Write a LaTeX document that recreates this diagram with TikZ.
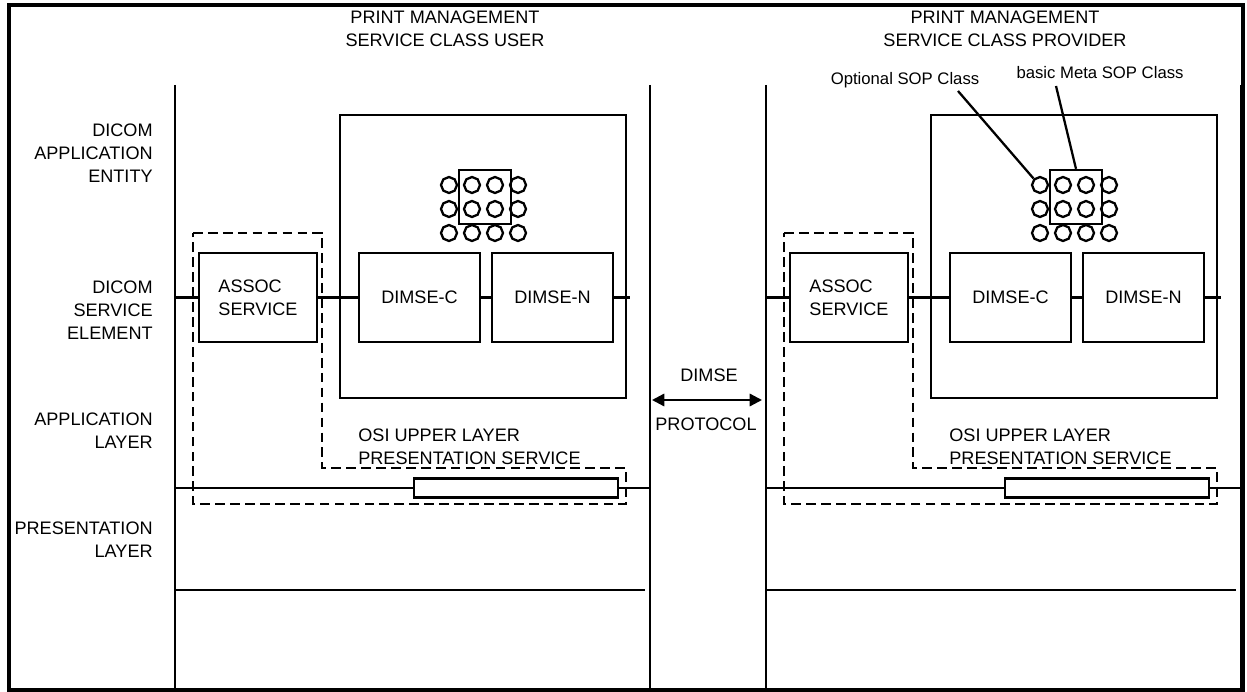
\documentclass[tikz,border=0pt]{standalone}
\usepackage{fontspec}
\setmainfont{Liberation Sans}
\usetikzlibrary{arrows.meta, positioning, shapes.geometric}
\definecolor{inkblack}{RGB}{0, 0, 0}

\tikzset{
  rule/.style={inkblack, line width=1.3pt},
  label/.style={font=\fontsize{10.3}{13}\selectfont, inner sep=0pt, align=center},
  note/.style={font=\fontsize{9.5}{12}\selectfont, inner sep=0pt},
  unitbox/.style={draw=inkblack, line width=1.3pt, fill=white, inner sep=0pt,
    minimum height=1.78cm, font=\fontsize{10.3}{13}\selectfont, align=left},
  sopdot/.style={draw=inkblack, line width=1.3pt, regular polygon,
    regular polygon sides=8, shape border rotate=22.5,
    minimum size=0.32cm, inner sep=0pt}
}

\begin{document}
\begin{tikzpicture}[x=0.02cm, y=-0.02cm]
  \useasboundingbox (0,0) rectangle (1247,692);
  % outer frame
  \draw[inkblack, line width=2.2pt] (9,5) rectangle (1243,690);

  % headings over the two columns
  \node[label] (usrhead) at (445,29) {PRINT MANAGEMENT\\SERVICE CLASS USER};
  \node[label] (prvhead) at (1005,29) {PRINT MANAGEMENT\\SERVICE CLASS PROVIDER};

  % layer names on the left
  \node[label, align=right, anchor=east] (entity) at (153,153)
    {DICOM\\APPLICATION\\ENTITY};
  \node[label, align=right, anchor=east] (element) at (153,310)
    {DICOM\\SERVICE\\ELEMENT};
  \node[label, align=right, anchor=east] (applayer) at (153,431)
    {APPLICATION\\LAYER};
  \node[label, align=right, anchor=east] (preslayer) at (153,540)
    {PRESENTATION\\LAYER};

  % one column per side
  \foreach \s/\dx in {usr/0, prv/591} {
    \begin{scope}[shift={(\dx,0)}]
      \draw[rule] (175,85) -- (175,690);
      \draw[rule] (650,85) -- (650,690);
      \draw[rule] (175,488) -- (650,488);
      \draw[rule] (175,590) -- (645,590);
      \draw[rule] (340,115) rectangle (626,398);
      \draw[rule, dash pattern=on 5.5pt off 3pt]
        (193,233) -- (322,233) -- (322,468) -- (626,468)
        -- (626,504) -- (193,504) -- cycle;
      \node[label, align=left, anchor=west] (\s-osi) at (358,447)
        {OSI UPPER LAYER\\PRESENTATION SERVICE};
      \node[draw=inkblack, line width=1.3pt, fill=white, inner sep=0pt,
        minimum width=4.08cm, minimum height=0.38cm] (\s-psap) at (516,488) {};
      % service elements
      \node[unitbox, minimum width=2.36cm] (\s-assoc) at (258,297.5)
        {ASSOC\\SERVICE};
      \node[unitbox, minimum width=2.42cm, align=center] (\s-dimsec)
        at (419.5,297.5) {DIMSE-C};
      \node[unitbox, minimum width=2.42cm, align=center] (\s-dimsen)
        at (552.5,297.5) {DIMSE-N};
      \coordinate (\s-in) at (175,297.5);
      \coordinate (\s-out) at (630,297.5);
      \draw[rule] (\s-in) -- (\s-assoc);
      \draw[rule] (\s-assoc) -- (\s-dimsec);
      \draw[rule] (\s-dimsec) -- (\s-dimsen);
      \draw[rule] (\s-dimsen) -- (\s-out);
      % SOP classes
      \foreach \c in {0,...,3}
        \foreach \r in {0,1,2}
          \node[sopdot] (\s-sop-\c-\r) at ({449+23*\c},{185+24*\r}) {};
      \node[draw=inkblack, line width=1.3pt, inner sep=0pt,
        minimum width=1.04cm, minimum height=1.08cm] (\s-meta) at (485,197) {};
    \end{scope}
  }

  % notes on the provider side
  \node[note] (optsop) at (905,80) {Optional SOP Class};
  \node[note] (metasop) at (1100,73) {basic Meta SOP Class};
  \coordinate (optfoot) at (958,91);
  \coordinate (metafoot) at (1056,86);
  \draw[rule] (optfoot) -- (prv-sop-0-0.135);
  \draw[rule] (metafoot) -- (prv-meta.north);

  % protocol between the two sides
  \coordinate (protoL) at (652,400);
  \coordinate (protoR) at (762,400);
  \draw[rule, {Triangle[length=7pt, width=7pt]}-{Triangle[length=7pt, width=7pt]}]
    (protoL) -- (protoR);
  \node[label] (dimse) at (709,375) {DIMSE};
  \node[label] (protocol) at (706,424) {PROTOCOL};
\end{tikzpicture}
\end{document}
